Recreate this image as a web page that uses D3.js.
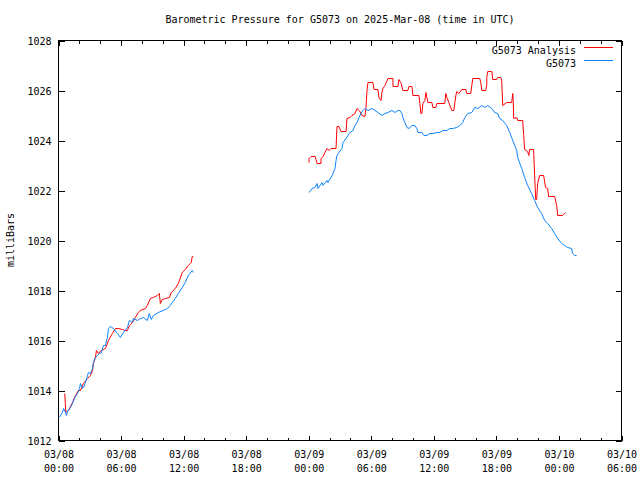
<!DOCTYPE html>
<html>
<head>
<meta charset="utf-8">
<script src="https://cdn.jsdelivr.net/npm/d3@7"></script>
<style>
  html, body { margin: 0; padding: 0; background: #fff; }
  svg { display: block; }
  text { font-family: "DejaVu Sans Mono", "Liberation Mono", monospace; font-size: 10px; fill: #000; }
</style>
</head>
<body>
<svg id="chart" width="640" height="480"></svg>
<script>
// ---------- DATA (hours since 2025-03-08 00:00 UTC, pressure in mb) ----------
const startTime = Date.UTC(2025, 2, 8, 0, 0);
const titleText = "Barometric Pressure for G5073 on 2025-Mar-08 (time in UTC)";
const yLabel = "milliBars";
const seriesNames = ["G5073 Analysis", "G5073"];
const yTicks = [1012, 1014, 1016, 1018, 1020, 1022, 1024, 1026, 1028];
const xMajorHours = [0, 6, 12, 18, 24, 30, 36, 42, 48, 54];
const xMinorHours = [2, 4, 8, 10, 14, 16, 20, 22, 26, 28, 32, 34, 38, 40, 44, 46, 50, 52];

// G5073 Analysis (red) — null marks the data gap
const analysisHours = [
  0.6, 0.7, 0.96, 1.34, 1.63, 1.91, 2.11, 2.39, 2.78, 3.06, 3.26, 3.35, 3.54, 3.64, 3.83, 4.1,
  4.5, 4.79, 5.17, 5.46, 5.74, 6.13, 6.42, 6.61, 6.8, 7.09, 7.37, 7.66, 7.85, 8.33, 8.52, 8.81,
  9.1, 9.48, 9.67, 9.77, 9.96, 10.25, 10.63, 10.82, 11.2, 11.49, 11.87, 12.16, 12.45, 12.73, 12.83, 12.93,
  null,
  24.03, 24.03, 24.22, 24.61, 24.7, 24.8, 25.18, 25.18, 25.37, 25.56, 25.76, 25.95, 26.14, 26.62, 26.71, 26.9,
  27.1, 27.58, 27.67, 27.96, 28.15, 28.44, 28.63, 28.92, 29.11, 29.39, 29.49, 29.59, 29.68, 30.16, 30.26, 30.64,
  30.74, 30.93, 31.02, 31.12, 31.31, 31.6, 32.08, 32.08, 32.55, 32.65, 32.84, 33.03, 33.51, 33.61, 33.9, 33.99,
  34.57, 34.66, 34.76, 34.85, 34.95, 35.14, 35.24, 35.33, 35.43, 35.81, 35.91, 36.19, 36.29, 37.05, 37.15, 37.25,
  37.44, 37.73, 37.92, 38.11, 38.2, 38.4, 38.68, 39.07, 39.16, 39.54, 39.64, 39.74, 40.41, 40.5, 40.6, 40.98,
  41.08, 41.08, 41.17, 41.56, 41.65, 42.03, 42.13, 42.42, 42.51, 42.61, 42.99, 43.47, 43.57, 43.61, 43.66, 43.95,
  44.04, 44.52, 44.62, 44.71, 45.0, 45.1, 45.19, 45.57, 45.67, 45.77, 45.86, 45.96, 46.15, 46.53, 46.72, 46.92,
  47.01, 47.59, 47.78, 47.88, 48.36, 48.55, 48.64
];
const analysisValues = [
  1013.88, 1013.12, 1013.2, 1013.52, 1013.8, 1014.0, 1014.0, 1014.28, 1014.48, 1014.6, 1014.8, 1015.08, 1015.32, 1015.6, 1015.48, 1015.6,
  1015.68, 1016.0, 1016.28, 1016.48, 1016.48, 1016.44, 1016.4, 1016.4, 1016.6, 1016.72, 1016.92, 1017.12, 1017.2, 1017.28, 1017.4, 1017.68,
  1017.72, 1017.8, 1017.88, 1017.48, 1017.64, 1017.68, 1017.72, 1017.92, 1018.08, 1018.28, 1018.72, 1018.84, 1019.0, 1019.12, 1019.36, 1019.36,
  null,
  1023.12, 1023.28, 1023.36, 1023.36, 1023.24, 1023.08, 1023.08, 1023.28, 1023.36, 1023.52, 1023.68, 1023.6, 1023.68, 1023.68, 1024.56, 1024.56,
  1024.36, 1024.36, 1024.88, 1024.92, 1025.0, 1025.08, 1025.28, 1025.16, 1025.0, 1024.96, 1025.32, 1026.0, 1026.32, 1026.32, 1026.04, 1026.04,
  1025.72, 1025.6, 1025.92, 1026.08, 1026.2, 1026.48, 1026.48, 1026.16, 1026.16, 1026.44, 1026.32, 1026.0, 1026.0, 1026.16, 1026.16, 1025.8,
  1025.8, 1025.48, 1025.08, 1025.08, 1025.48, 1025.6, 1025.92, 1025.72, 1025.52, 1025.52, 1025.32, 1025.32, 1025.48, 1025.48, 1025.88, 1025.72,
  1025.52, 1025.2, 1025.2, 1025.8, 1025.96, 1025.88, 1026.04, 1026.04, 1025.88, 1025.88, 1026.2, 1026.48, 1026.48, 1026.32, 1026.0, 1026.0,
  1026.24, 1026.52, 1026.76, 1026.76, 1026.44, 1026.44, 1026.52, 1026.52, 1026.4, 1025.4, 1025.52, 1025.52, 1025.88, 1025.64, 1024.88, 1024.92,
  1024.8, 1024.8, 1024.2, 1023.64, 1023.56, 1023.4, 1023.64, 1023.64, 1022.6, 1021.64, 1021.64, 1022.28, 1022.6, 1022.6, 1022.12, 1022.08,
  1021.76, 1021.76, 1021.4, 1021.0, 1021.0, 1021.08, 1021.12
];

// G5073 observations (blue)
const obsHours = [
  0.05, 0.38, 0.48, 0.67, 0.77, 0.86, 1.15, 1.34, 1.53, 1.82, 2.01, 2.11, 2.3, 2.39, 2.59, 2.78,
  2.87, 3.06, 3.26, 3.35, 3.54, 3.73, 3.93, 4.12, 4.31, 4.5, 4.69, 4.79, 4.98, 5.27, 5.65, 5.94,
  6.22, 6.61, 6.8, 7.09, 7.18, 7.56, 7.85, 8.14, 8.52, 8.71, 8.9, 9.1, 9.57, 10.05, 10.44, 10.72,
  10.92, 11.2, 11.49, 11.87, 12.16, 12.45, 12.83, 12.93,
  null,
  24.03, 24.32, 24.61, 24.8, 24.89, 25.28, 25.37, 25.76, 25.85, 26.24, 26.33, 26.52, 26.62, 26.71, 26.9, 27.19,
  27.29, 27.58, 27.77, 27.96, 28.25, 28.44, 28.63, 28.82, 29.01, 29.2, 29.39, 29.68, 30.07, 30.35, 30.64, 31.02,
  31.31, 31.6, 31.98, 32.27, 32.55, 32.75, 32.94, 33.03, 33.22, 33.42, 33.61, 33.9, 34.18, 34.37, 34.47, 34.85,
  35.05, 35.33, 35.62, 35.91, 36.29, 36.58, 36.86, 37.25, 37.53, 37.82, 38.2, 38.49, 38.78, 38.97, 39.26, 39.64,
  39.93, 40.22, 40.6, 40.88, 41.17, 41.56, 41.84, 42.13, 42.32, 42.61, 42.99, 43.28, 43.57, 43.95, 44.04, 44.43,
  44.71, 45.0, 45.38, 45.67, 45.96, 46.34, 46.63, 46.92, 47.3, 47.59, 47.88, 48.26, 48.55, 48.83, 49.22, 49.31,
  49.5, 49.69
];
const obsValues = [
  1012.92, 1013.12, 1013.28, 1013.12, 1013.0, 1013.16, 1013.32, 1013.48, 1013.68, 1013.88, 1014.08, 1014.28, 1014.08, 1014.12, 1014.32, 1014.6,
  1014.72, 1014.68, 1014.88, 1015.12, 1015.32, 1015.4, 1015.48, 1015.52, 1015.8, 1015.8, 1016.12, 1016.48, 1016.56, 1016.48, 1016.28, 1016.12,
  1016.32, 1016.52, 1016.8, 1016.72, 1016.88, 1016.8, 1016.88, 1016.92, 1016.8, 1017.08, 1016.84, 1017.0, 1017.12, 1017.2, 1017.28, 1017.4,
  1017.52, 1017.68, 1017.88, 1018.12, 1018.32, 1018.6, 1018.8, 1018.72,
  null,
  1021.92, 1022.08, 1022.12, 1022.28, 1022.08, 1022.32, 1022.2, 1022.4, 1022.32, 1022.6, 1022.68, 1022.88, 1023.2, 1023.4, 1023.52, 1023.68,
  1023.92, 1024.08, 1024.2, 1024.32, 1024.4, 1024.6, 1024.72, 1024.92, 1025.08, 1025.2, 1025.28, 1025.2, 1025.28, 1025.2, 1025.12, 1025.0,
  1025.08, 1025.12, 1025.2, 1025.12, 1025.2, 1025.2, 1025.08, 1024.92, 1024.72, 1024.52, 1024.48, 1024.6, 1024.6, 1024.48, 1024.32, 1024.32,
  1024.2, 1024.2, 1024.28, 1024.28, 1024.32, 1024.32, 1024.4, 1024.4, 1024.48, 1024.48, 1024.52, 1024.6, 1024.72, 1024.92, 1025.08, 1025.12,
  1025.32, 1025.28, 1025.4, 1025.32, 1025.4, 1025.28, 1025.12, 1025.08, 1024.88, 1024.8, 1024.6, 1024.32, 1024.0, 1023.6, 1023.32, 1022.88,
  1022.52, 1022.2, 1021.88, 1021.6, 1021.32, 1021.08, 1020.8, 1020.68, 1020.48, 1020.28, 1020.08, 1019.88, 1019.8, 1019.72, 1019.68, 1019.48,
  1019.4, 1019.4
];

const seriesColors = ["#ff0000", "#0a84ff"];

// ---------- CHART ----------
const svg = d3.select("#chart");
const L = 58.5, R = 621.5, T = 40.5, B = 440.5;
const hourMs = 3600 * 1000;
const toDate = h => new Date(startTime + h * hourMs);

const x = d3.scaleUtc().domain([toDate(0), toDate(54)]).range([L, R]);
const y = d3.scaleLinear().domain([1012, 1028]).range([B, T]);

// Title
svg.append("text").attr("x", 340).attr("y", 23).attr("text-anchor", "middle").text(titleText);

// Y label
svg.append("text")
  .attr("transform", "translate(14,240) rotate(-90)")
  .attr("text-anchor", "middle")
  .text(yLabel);

// Axes via d3
const fmtDay = d3.utcFormat("%m/%d"), fmtTime = d3.utcFormat("%H:%M");

const yAxisL = d3.axisLeft(y).tickValues(yTicks).tickSize(-6).tickPadding(7).tickFormat(d3.format("d"));
const gyl = svg.append("g").attr("transform", `translate(${L},0)`).call(yAxisL);
const yAxisR = d3.axisRight(y).tickValues(yTicks).tickSize(-6).tickFormat("");
const gyr = svg.append("g").attr("transform", `translate(${R},0)`).call(yAxisR);

const xAxisB = d3.axisBottom(x).tickValues(xMajorHours.map(toDate)).tickSize(-5).tickPadding(0).tickFormat("");
const gxb = svg.append("g").attr("transform", `translate(0,${B})`).call(xAxisB);
const xMinB = d3.axisBottom(x).tickValues(xMinorHours.map(toDate)).tickSize(-3).tickFormat("");
const gxbm = svg.append("g").attr("transform", `translate(0,${B})`).call(xMinB);
const xAxisT = d3.axisTop(x).tickValues(xMajorHours.map(toDate)).tickSize(-5).tickFormat("");
const gxt = svg.append("g").attr("transform", `translate(0,${T})`).call(xAxisT);
const xMinT = d3.axisTop(x).tickValues(xMinorHours.map(toDate)).tickSize(-3).tickFormat("");
const gxtm = svg.append("g").attr("transform", `translate(0,${T})`).call(xMinT);

// two-line x tick labels
gxb.selectAll(".tick").each(function(d) {
  const g = d3.select(this);
  g.select("text").remove();
  const t = g.append("text").attr("text-anchor", "middle").attr("y", 17);
  t.append("tspan").attr("x", 0).text(fmtDay(d));
  t.append("tspan").attr("x", 0).attr("dy", 14).text(fmtTime(d));
});

[gyl, gyr, gxb, gxbm, gxt, gxtm].forEach(g => {
  g.select(".domain").remove();
  g.selectAll(".tick line").attr("stroke", "#000").attr("shape-rendering", "crispEdges");
  g.selectAll("text").attr("fill", "#000").style("font-size", "10px")
    .style("font-family", "'DejaVu Sans Mono', 'Liberation Mono', monospace");
});
gyl.selectAll(".tick text").attr("dy", "0.35em");

// Frame
svg.append("rect").attr("x", L).attr("y", T).attr("width", R - L).attr("height", B - T)
  .attr("fill", "none").attr("stroke", "#000").attr("shape-rendering", "crispEdges");

// Lines
const mk = (hs, vs) => hs.map((h, i) => ({ h, v: vs[i] }));
const line = d3.line()
  .defined(d => d.h !== null && d.v !== null)
  .x(d => x(toDate(d.h)))
  .y(d => y(d.v));

const series = [mk(analysisHours, analysisValues), mk(obsHours, obsValues)];
series.forEach((s, i) => {
  svg.append("path").datum(s).attr("d", line)
    .attr("fill", "none").style("stroke", seriesColors[i]).attr("stroke-width", 1)
    .attr("stroke-linejoin", "miter");
});

// Legend
seriesNames.forEach((name, i) => {
  const yy = 50 + i * 13;
  svg.append("text").attr("x", 576).attr("y", yy + 3.5).attr("text-anchor", "end").text(name);
  svg.append("rect").attr("x", 584).attr("y", yy - 3).attr("width", 29).attr("height", 1)
    .style("fill", seriesColors[i]).style("stroke", "none");
});
</script>
</body>
</html>
